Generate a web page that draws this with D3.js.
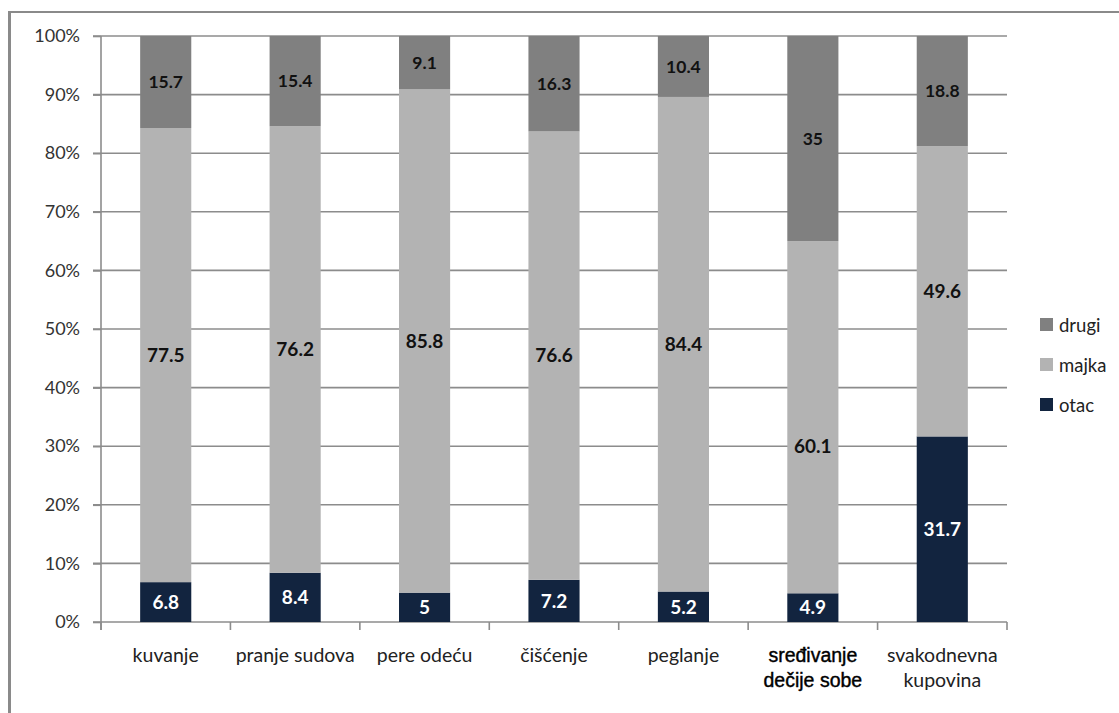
<!DOCTYPE html>
<html>
<head>
<meta charset="utf-8">
<script src="https://cdn.jsdelivr.net/npm/d3@7"></script>
<style>
  body { margin: 0; background: #fff; }
  svg { display: block; }
  .tick text { font-family: Lato, 'Open Sans', sans-serif; }
</style>
</head>
<body>
<svg width="1119" height="713"></svg>
<script>
var categories = ['kuvanje', 'pranje sudova', 'pere odeću', 'čišćenje', 'peglanje', 'sređivanje dečije sobe', 'svakodnevna kupovina'];
var otac  = [6.8, 8.4, 5, 7.2, 5.2, 4.9, 31.7];
var majka = [77.5, 76.2, 85.8, 76.6, 84.4, 60.1, 49.6];
var drugi = [15.7, 15.4, 9.1, 16.3, 10.4, 35, 18.8];
var seriesNames = ['otac', 'majka', 'drugi'];
var yTicks = [0, 0.1, 0.2, 0.3, 0.4, 0.5, 0.6, 0.7, 0.8, 0.9, 1];

var colors = { otac: '#12243f', majka: '#b3b3b3', drugi: '#808080' };
var labelColors = { otac: '#ffffff', majka: '#111111', drugi: '#111111' };

var rows = categories.map(function (c, i) {
  return { cat: c, otac: otac[i], majka: majka[i], drugi: drugi[i] };
});

var svg = d3.select('svg');

// frame
svg.append('line').attr('x1', 9.5).attr('y1', 12).attr('x2', 9.5).attr('y2', 713)
  .attr('stroke', '#8a8a8a').attr('stroke-width', 3);
svg.append('line').attr('x1', 8).attr('y1', 12).attr('x2', 1119).attr('y2', 12)
  .attr('stroke', '#8a8a8a').attr('stroke-width', 2);

var plotLeft = 101, plotRight = 1007, plotTop = 36, plotBottom = 622;

var x = d3.scaleBand().domain(categories).range([plotLeft, plotRight]).padding(0);
var y = d3.scaleLinear().domain([0, 1]).range([plotBottom, plotTop]);
var barW = x.bandwidth() * 0.395;

// gridlines
svg.append('g')
  .selectAll('line')
  .data(yTicks)
  .enter().append('line')
  .attr('x1', plotLeft - 8).attr('x2', plotRight)
  .attr('y1', function (d) { return y(d); })
  .attr('y2', function (d) { return y(d); })
  .attr('stroke', '#8c8c8c').attr('stroke-width', 1.6);

// y axis
var yAxis = svg.append('g')
  .attr('transform', 'translate(' + plotLeft + ',0)')
  .call(d3.axisLeft(y).tickValues(yTicks).tickFormat(d3.format('.0%')).tickSize(8).tickPadding(13));
yAxis.select('.domain').attr('stroke', '#8c8c8c').attr('stroke-width', 1.6)
  .attr('d', 'M0,' + plotTop + 'V' + (plotBottom + 8));
yAxis.selectAll('.tick line').attr('stroke', '#8c8c8c').attr('stroke-width', 1.6);
yAxis.selectAll('.tick text').attr('font-size', 18).attr('fill', '#333');

// x axis ticks at band boundaries
var bounds = categories.map(function (c) { return x(c); }).concat([plotRight]);
svg.append('g')
  .selectAll('line')
  .data(bounds)
  .enter().append('line')
  .attr('x1', function (d) { return d; }).attr('x2', function (d) { return d; })
  .attr('y1', plotBottom).attr('y2', plotBottom + 8)
  .attr('stroke', '#8c8c8c').attr('stroke-width', 1.6);

// stacked bars
var stack = d3.stack().keys(seriesNames).offset(d3.stackOffsetExpand);
var layers = stack(rows);

var labelShift = { 'majka|sređivanje dečije sobe': 29 };

layers.forEach(function (layer) {
  var key = layer.key;
  var g = svg.append('g');
  g.selectAll('rect')
    .data(layer)
    .enter().append('rect')
    .attr('x', function (d) { return x(d.data.cat) + (x.bandwidth() - barW) / 2; })
    .attr('y', function (d) { return y(d[1]); })
    .attr('width', barW)
    .attr('height', function (d) { return y(d[0]) - y(d[1]); })
    .attr('fill', colors[key]);

  g.selectAll('text')
    .data(layer)
    .enter().append('text')
    .attr('x', function (d) { return x(d.data.cat) + x.bandwidth() / 2; })
    .attr('y', function (d) {
      return (y(d[0]) + y(d[1])) / 2 + (labelShift[key + '|' + d.data.cat] || 0);
    })
    .attr('dy', '0.36em')
    .attr('text-anchor', 'middle')
    .attr('font-family', 'Lato, "Open Sans", sans-serif')
    .attr('font-weight', 'bold')
    .attr('font-size', key === 'drugi' ? 17.5 : 19)
    .attr('fill', labelColors[key])
    .text(function (d) { return d.data[key]; });
});

// category labels
var boldCats = ['sređivanje dečije sobe'];
var splitLabels = {
  'sređivanje dečije sobe': ['sređivanje', 'dečije sobe'],
  'svakodnevna kupovina': ['svakodnevna', 'kupovina']
};
categories.forEach(function (c) {
  var lines = splitLabels[c] || [c];
  var isBold = boldCats.indexOf(c) >= 0;
  var t = svg.append('text')
    .attr('x', x(c) + x.bandwidth() / 2)
    .attr('y', 662)
    .attr('text-anchor', 'middle')
    .attr('font-family', isBold ? '"Liberation Sans", Arial, sans-serif' : 'Lato, "Open Sans", sans-serif')
    .attr('font-size', isBold ? 19.5 : 19.5)
    .attr('stroke', isBold ? '#000' : 'none')
    .attr('stroke-width', isBold ? 0.4 : 0)
    .attr('fill', isBold ? '#000' : '#222');
  lines.forEach(function (l, i) {
    t.append('tspan').attr('x', x(c) + x.bandwidth() / 2).attr('dy', i === 0 ? 0 : 25).text(l);
  });
});

// legend
var legendOrder = ['drugi', 'majka', 'otac'];
var legend = svg.append('g').attr('transform', 'translate(1040,318)');
legendOrder.forEach(function (k, i) {
  legend.append('rect').attr('x', 0).attr('y', i * 40).attr('width', 13).attr('height', 13)
    .attr('fill', colors[k]);
  legend.append('text').attr('x', 19).attr('y', i * 40 + 7).attr('dy', '0.36em')
    .attr('font-family', 'Lato, "Open Sans", sans-serif').attr('font-size', 18.5)
    .attr('fill', '#222').text(k);
});
</script>
</body>
</html>
